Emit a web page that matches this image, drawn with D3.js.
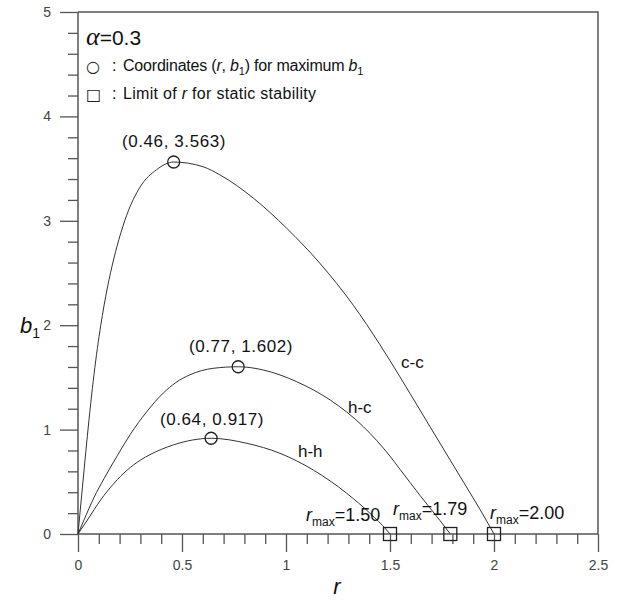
<!DOCTYPE html>
<html><head><meta charset="utf-8">
<script src="https://cdn.jsdelivr.net/npm/d3@7"></script>
<style>
body{margin:0;background:#fff;}
text{font-family:Arial,"Liberation Sans",sans-serif;}
</style></head>
<body>
<svg id="c" width="624" height="604"></svg>
<script>
// ---- data ----
const ccPoints = [[0,0],[0.021,0.441],[0.037,0.777],[0.053,1.097],[0.069,1.393],[0.085,1.657],[0.101,1.889],
  [0.133,2.273],[0.165,2.577],[0.197,2.823],[0.234,3.053],[0.298,3.322],[0.378,3.49],[0.46,3.563],
  [0.601,3.518],[0.683,3.439],[0.843,3.217],[1.003,2.929],[1.163,2.593],[1.324,2.19],[1.452,1.812],
  [1.548,1.505],[1.644,1.188],[1.74,0.871],[1.837,0.551],[1.933,0.234],[2.0,0]];
const hcPoints = [[0,0],[0.029,0.135],[0.077,0.35],[0.125,0.53],[0.189,0.75],[0.25,0.95],[0.33,1.17],
  [0.41,1.35],[0.47,1.45],[0.538,1.525],[0.65,1.587],[0.77,1.602],[0.891,1.571],[1.051,1.459],[1.212,1.284],
  [1.372,1.028],[1.5,0.745],[1.548,0.62],[1.644,0.37],[1.74,0.13],[1.79,0]];
const hhPoints = [[0,0],[0.045,0.134],[0.109,0.326],[0.173,0.486],[0.237,0.613],[0.301,0.709],[0.346,0.76],
  [0.458,0.853],[0.55,0.90],[0.64,0.917],[0.811,0.869],[0.971,0.773],[1.131,0.613],[1.292,0.39],
  [1.404,0.198],[1.484,0.038],[1.5,0]];
const seriesNames = ["c-c","h-c","h-h"];
const peakR = [0.46,0.77,0.64];
const peakB = [3.563,1.602,0.917];
const peakLabels = ["(0.46, 3.563)","(0.77, 1.602)","(0.64, 0.917)"];
const rmaxValues = [1.50,1.79,2.00];
const rmaxLabels = ["=1.50","=1.79","=2.00"];
const xMajorTicks = [0,0.5,1,1.5,2,2.5];
const xTickLabels = ["0","0.5","1","1.5","2","2.5"];
const yMajorTicks = [0,1,2,3,4,5];
const yTickLabels = ["0","1","2","3","4","5"];

// ---- layout ----
const svg = d3.select("#c");
const x = d3.scaleLinear().domain([0,2.5]).range([78,598]);
const y = d3.scaleLinear().domain([0,5]).range([534,12]);
const axisColor = "#555", tickText = "#444";

// frame (top and right)
svg.append("path").attr("d",`M${x(0)},${y(5)}H${x(2.5)}V${y(0)}`)
  .attr("fill","none").attr("stroke",axisColor).attr("stroke-width",1.5);

// x axis minor
const xMinor = d3.range(0,2.501,0.1).filter(v=>Math.abs(v*2-Math.round(v*2))>1e-6);
const gxm = svg.append("g").attr("transform",`translate(0,${y(0)})`)
  .call(d3.axisBottom(x).tickValues(xMinor).tickSize(10).tickFormat(""));
const gx = svg.append("g").attr("transform",`translate(0,${y(0)})`)
  .call(d3.axisBottom(x).tickValues(xMajorTicks).tickSize(18).tickPadding(8)
    .tickFormat((d,i)=>xTickLabels[i]));
// y axis
const yMinor = d3.range(0,5.001,0.2).filter(v=>Math.abs(v-Math.round(v))>1e-6);
const gym = svg.append("g").attr("transform",`translate(${x(0)},0)`)
  .call(d3.axisLeft(y).tickValues(yMinor).tickSize(10).tickFormat(""));
const gy = svg.append("g").attr("transform",`translate(${x(0)},0)`)
  .call(d3.axisLeft(y).tickValues(yMajorTicks).tickSize(18).tickPadding(9)
    .tickFormat((d,i)=>yTickLabels[i]));
[gxm,gx,gym,gy].forEach(g=>{
  g.select(".domain").remove();
  g.selectAll(".tick line").attr("stroke",axisColor).attr("stroke-width",1.3);
  g.selectAll(".tick text").attr("fill",tickText).style("font-size","14px")
    .style("font-family","Arial, 'Liberation Sans', sans-serif");
});
// axis lines
svg.append("line").attr("x1",x(0)).attr("x2",x(2.5)).attr("y1",y(0)).attr("y2",y(0))
  .attr("stroke",axisColor).attr("stroke-width",1.5);
svg.append("line").attr("x1",x(0)).attr("x2",x(0)).attr("y1",y(0)).attr("y2",y(5))
  .attr("stroke",axisColor).attr("stroke-width",1.5);

// curves
const line = d3.line().x(d=>x(d[0])).y(d=>y(d[1])).curve(d3.curveMonotoneX);
[ccPoints,hcPoints,hhPoints].forEach(pts=>{
  svg.append("path").attr("d",line(pts)).attr("fill","none")
    .attr("stroke","#333").attr("stroke-width",1);
});

// peak markers
peakR.forEach((r,i)=>{
  svg.append("circle").attr("cx",x(r)).attr("cy",y(peakB[i])).attr("r",6)
    .attr("fill","none").attr("stroke","#222").attr("stroke-width",1.3);
});
// rmax squares
rmaxValues.forEach(r=>{
  svg.append("rect").attr("x",x(r)-6.5).attr("y",y(0)-6.5).attr("width",13).attr("height",13)
    .attr("fill","none").attr("stroke","#222").attr("stroke-width",1.3);
});

// peak labels
const peakPos = [[174,147],[241,352],[212,425]];
peakLabels.forEach((t,i)=>{
  svg.append("text").attr("x",peakPos[i][0]).attr("y",peakPos[i][1]).attr("text-anchor","middle")
    .style("font-size","17px").style("letter-spacing","0.6px").attr("fill","#111").text(t);
});
// series labels
const namePos = [[401,368],[348,413],[298,457]];
seriesNames.forEach((t,i)=>{
  svg.append("text").attr("x",namePos[i][0]).attr("y",namePos[i][1])
    .style("font-size","17px").attr("fill","#111").text(t);
});
// rmax labels
const rmaxPos = [[306,521],[393,515],[490,519]];
rmaxLabels.forEach((t,i)=>{
  const tx = svg.append("text").attr("x",rmaxPos[i][0]).attr("y",rmaxPos[i][1])
    .style("font-size","18px").attr("fill","#111");
  tx.append("tspan").style("font-style","italic").text("r");
  tx.append("tspan").attr("dy",5).style("font-size","12px").text("max");
  tx.append("tspan").attr("dy",-5).text(t);
});

// legend block
const l1 = svg.append("text").attr("x",86).attr("y",45).style("font-size","21px").attr("fill","#111");
l1.append("tspan").style("font-family","'Liberation Serif','DejaVu Serif',serif").style("font-style","italic")
  .style("font-size","26px").text("α");
l1.append("tspan").text("=0.3");
const symFont = "'DejaVu Sans', sans-serif";
svg.append("text").attr("x",86).attr("y",72).style("font-family",symFont).style("font-size","16px")
  .attr("fill","#222").text("○");
svg.append("text").attr("x",112).attr("y",71).style("font-size","16px").attr("fill","#111").text(":");
const l2 = svg.append("text").attr("x",123).attr("y",71).style("font-size","16px")
  .style("letter-spacing","-0.2px").attr("fill","#111");
l2.append("tspan").text("Coordinates (");
l2.append("tspan").style("font-style","italic").text("r");
l2.append("tspan").text(", ");
l2.append("tspan").style("font-style","italic").text("b");
l2.append("tspan").attr("dy",4).style("font-size","11px").text("1");
l2.append("tspan").attr("dy",-4).text(") for maximum ");
l2.append("tspan").style("font-style","italic").text("b");
l2.append("tspan").attr("dy",4).style("font-size","11px").text("1");
svg.append("text").attr("x",86).attr("y",100).style("font-family",symFont).style("font-size","16px")
  .attr("fill","#222").text("□");
svg.append("text").attr("x",112).attr("y",99).style("font-size","16px").attr("fill","#111").text(":");
const l3 = svg.append("text").attr("x",123).attr("y",99).style("font-size","16px")
  .style("letter-spacing","0.3px").attr("fill","#111");
l3.append("tspan").text("Limit of ");
l3.append("tspan").style("font-style","italic").text("r");
l3.append("tspan").text(" for static stability");

// axis titles
const yt = svg.append("text").attr("x",20).attr("y",333).style("font-size","22px").attr("fill","#111");
yt.append("tspan").style("font-style","italic").text("b");
yt.append("tspan").attr("dy",5).style("font-size","14px").text("1");
svg.append("text").attr("x",337).attr("y",594).attr("text-anchor","middle")
  .style("font-size","22px").style("font-style","italic").attr("fill","#111").text("r");
</script>
</body></html>
